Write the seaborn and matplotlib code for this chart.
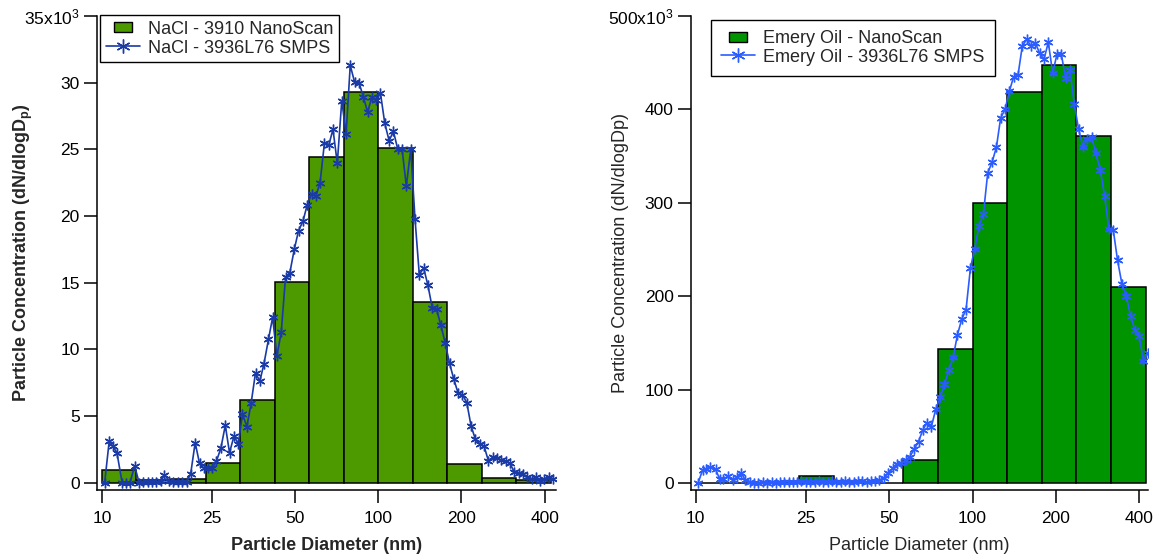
import numpy as np
import matplotlib
matplotlib.use("Agg")
import matplotlib.pyplot as plt
import seaborn as sns
from matplotlib.lines import Line2D
from matplotlib.ticker import FixedLocator, NullLocator, FixedFormatter

# ---------------- data ----------------
# NanoScan bin edges (nm), 8 channels per decade
nanoscan_edges = [10.0, 13.3, 17.8, 23.7, 31.6, 42.2, 56.2, 75.0, 100.0,
                  133.4, 177.8, 237.1, 316.2, 421.7]
# dN/dlogDp in thousands
nacl_nanoscan = [0.93, 0.2, 0.25, 1.48, 6.23, 15.03, 24.4, 29.28, 25.08,
                 13.53, 1.43, 0.33, 0.18]
emery_nanoscan = [0.0, 0.0, 1.5, 8.2, 0.5, 0.0, 25.3, 143.9, 299.6,
                  418.2, 447.5, 372.1, 209.6]

# SMPS channel midpoints (nm)
smps_diam = [10.2, 10.6, 10.9, 11.3, 11.8, 12.2, 12.6, 13.1, 13.6, 14.1,
             14.6, 15.1, 15.7, 16.3, 16.8, 17.5, 18.1, 18.8, 19.5, 20.2,
             20.9, 21.7, 22.5, 23.3, 24.1, 25.0, 25.9, 26.9, 27.9, 28.9,
             30.0, 31.1, 32.2, 33.4, 34.6, 35.9, 37.2, 38.5, 40.0, 41.4,
             42.9, 44.5, 46.1, 47.8, 49.6, 51.4, 53.3, 55.2, 57.3, 59.4,
             61.5, 63.8, 66.1, 68.5, 71.0, 73.7, 76.4, 79.1, 82.0, 85.1,
             88.2, 91.4, 94.7, 98.2, 101.8, 105.5, 109.4, 113.4, 117.6, 121.9,
             126.3, 131.0, 135.8, 140.7, 145.9, 151.2, 156.8, 162.5, 168.5, 174.7,
             181.1, 187.7, 194.6, 201.7, 209.1, 216.7, 224.7, 232.9, 241.4, 250.3,
             259.5, 269.0, 278.8, 289.0, 299.6, 310.6, 322.0, 333.8, 346.0, 358.7,
             371.8, 385.4, 399.5, 414.2, 429.4]

nacl_smps = [0.0, 3.15, 2.75, 2.25, 0.0, 0.0, 0.0, 1.25, 0.0, 0.05,
             0.05, 0.05, 0.05, 0.1, 0.6, 0.1, 0.05, 0.05, 0.05, 0.05,
             0.65, 3.0, 1.45, 1.1, 1.1, 1.1, 1.6, 2.6, 4.3, 2.25,
             3.5, 2.9, 5.15, 4.2, 5.95, 8.25, 7.6, 8.9, 10.75, 12.4,
             9.5, 11.3, 15.4, 15.75, 17.5, 18.9, 19.6, 20.8, 21.65, 21.5,
             22.5, 25.5, 25.3, 26.5, 23.95, 28.65, 26.15, 31.3, 30.05, 30.0,
             28.95, 27.8, 28.9, 28.7, 29.2, 26.95, 25.65, 26.35, 25.0, 25.0,
             22.25, 25.0, 19.75, 15.6, 16.1, 14.8, 13.1, 13.0, 11.8, 10.45,
             8.95, 7.75, 6.7, 6.6, 6.0, 4.25, 3.25, 2.9, 2.75, 1.65,
             1.9, 1.85, 1.7, 1.6, 1.45, 0.8, 0.75, 0.65, 0.4, 0.3,
             0.4, 0.15, 0.3, 0.45, 0.3]

emery_smps = [0.0, 14.5, 15.5, 17.5, 15.0, 4.8, 4.8, 7.5, 3.5, 6.4,
              11.5, 3.5, 1.8, 0.8, 0.8, 1.0, 0.6, 1.2, 0.8, 1.5,
              1.0, 1.8, 1.4, 1.0, 2.0, 1.6, 1.2, 1.5, 2.0, 1.0,
              1.4, 2.2, 1.6, 1.1, 2.0, 1.5, 1.8, 2.4, 1.9, 1.2,
              2.0, 2.5, 3.6, 5.4, 11.4, 16.0, 20.7, 22.0, 25.0, 28.6,
              36.4, 44.6, 57.0, 65.0, 60.7, 79.6, 92.0, 106.0, 120.7, 135.0,
              159.0, 175.7, 185.7, 230.0, 251.0, 275.7, 288.0, 332.0, 343.6, 359.6,
              391.0, 400.0, 419.6, 435.0, 436.8, 467.9, 475.0, 468.0, 471.4, 460.0,
              453.6, 472.0, 439.0, 459.0, 459.0, 434.0, 442.0, 406.0, 379.0, 360.0,
              368.0, 370.7, 352.9, 335.7, 307.9, 272.0, 271.4, 238.6, 213.6, 200.7,
              179.3, 164.3, 157.9, 130.4, 139.3]

x_ticks = [10, 25, 50, 100, 200, 400]
x_ticklabels = ["10", "25", "50", "100", "200", "400"]
left_yticks = [0, 5, 10, 15, 20, 25, 30, 35]
left_yticklabels = ["0", "5", "10", "15", "20", "25", "30", r"35x10$^{\mathregular{3}}$"]
right_yticks = [0, 100, 200, 300, 400, 500]
right_yticklabels = ["0", "100", "200", "300", "400", r"500x10$^{\mathregular{3}}$"]

# ---------------- style ----------------
sns.set_style("ticks")
plt.rcParams["font.family"] = ["Liberation Sans", "DejaVu Sans"]
plt.rcParams["mathtext.fontset"] = "custom"
plt.rcParams["mathtext.rm"] = "Liberation Sans"
plt.rcParams["mathtext.it"] = "Liberation Sans:italic"
plt.rcParams["mathtext.bf"] = "Liberation Sans:bold"

W, H = 1157, 556
fig = plt.figure(figsize=(W / 100, H / 100), dpi=100)

def px_axes(x0, x1, ytop, ybot):
    return fig.add_axes([x0 / W, 1 - ybot / H, (x1 - x0) / W, (ybot - ytop) / H])

axL = px_axes(97, 556, 16, 490)
axR = px_axes(691, 1148, 16, 490)

sym = (6, 2, 0)

def draw_panel(ax, heights, smps, bar_color, line_color, xlim, ylim):
    edges = np.array(nanoscan_edges)
    ax.bar(edges[:-1], heights, width=np.diff(edges), align="edge",
           color=bar_color, edgecolor="black", linewidth=1.1, zorder=2)
    sns.lineplot(x=smps_diam, y=smps, ax=ax, color=line_color, linewidth=1.2,
                 marker=sym, markersize=7, markeredgecolor=line_color,
                 markeredgewidth=1.0, legend=False, zorder=3)
    ax.set_xscale("log")
    ax.set_xlim(*xlim)
    ax.set_ylim(*ylim)
    ax.xaxis.set_major_locator(FixedLocator(x_ticks))
    ax.xaxis.set_major_formatter(FixedFormatter(x_ticklabels))
    ax.xaxis.set_minor_locator(NullLocator())
    ax.yaxis.set_minor_locator(NullLocator())
    for s in ["top", "right"]:
        ax.spines[s].set_visible(False)
    for s in ["left", "bottom"]:
        ax.spines[s].set_linewidth(1.1)
        ax.spines[s].set_color("black")
    ax.tick_params(axis="both", which="major", direction="out", length=9.5,
                   width=1.1, color="black", labelsize=12.5, labelcolor="black")
    ax.tick_params(axis="x", pad=5.5)
    ax.tick_params(axis="y", pad=3)
    ax.set_facecolor("white")

# Left panel: NaCl
cL_bar, cL_line = "#4C9900", "#1A3AA6"
draw_panel(axL, nacl_nanoscan, nacl_smps, cL_bar, cL_line, (9.57, 440), (-0.55, 35.0))
axL.yaxis.set_major_locator(FixedLocator(left_yticks))
axL.yaxis.set_major_formatter(FixedFormatter(left_yticklabels))
axL.set_xlabel("Particle Diameter (nm)", fontsize=13, fontweight="bold")
axL.set_ylabel(r"Particle Concentration (dN/dlogD$_{\mathbf{p}}$)", fontsize=13, fontweight="bold")
axL.xaxis.set_label_coords(0.5, -0.099)
axL.yaxis.set_label_coords(-0.135, 0.5)

# Right panel: Emery oil
cR_bar, cR_line = "#009400", "#2A5CFF"
draw_panel(axR, emery_nanoscan, emery_smps, cR_bar, cR_line, (9.62, 430), (-7.2, 500.0))
axR.yaxis.set_major_locator(FixedLocator(right_yticks))
axR.yaxis.set_major_formatter(FixedFormatter(right_yticklabels))
axR.set_xlabel("Particle Diameter (nm)", fontsize=13)
axR.set_ylabel("Particle Concentration (dN/dlogDp)", fontsize=13)
axR.xaxis.set_label_coords(0.5, -0.099)
axR.yaxis.set_label_coords(-0.136, 0.5)

rect = [(-1.7, -1.0), (1.7, -1.0), (1.7, 1.0), (-1.7, 1.0), (-1.7, -1.0)]

def add_legend(ax, bar_color, line_color, labels, anchor_px, pad):
    handles = [
        Line2D([], [], linestyle="none", marker=rect, markersize=12.5,
               markerfacecolor=bar_color, markeredgecolor="black", markeredgewidth=1.0),
        Line2D([], [], color=line_color, linewidth=1.2, marker=sym, markersize=10,
               markeredgecolor=line_color, markeredgewidth=1.0),
    ]
    leg = ax.legend(handles, labels, loc="upper left",
                    bbox_to_anchor=(anchor_px[0] / W, 1 - anchor_px[1] / H),
                    bbox_transform=fig.transFigure, borderaxespad=0,
                    fontsize=13, frameon=True, fancybox=False, framealpha=1,
                    edgecolor="black", handlelength=1.9, handletextpad=0.45,
                    labelspacing=0.1, borderpad=pad)
    leg.get_frame().set_linewidth(1.0)
    return leg

add_legend(axL, cL_bar, cL_line, ["NaCl - 3910 NanoScan", "NaCl - 3936L76 SMPS"], (100, 15), 0.32)
add_legend(axR, cR_bar, cR_line, ["Emery Oil - NanoScan", "Emery Oil - 3936L76 SMPS"], (711, 20), 0.55)

fig.savefig("out.png", dpi=100, facecolor="white")
